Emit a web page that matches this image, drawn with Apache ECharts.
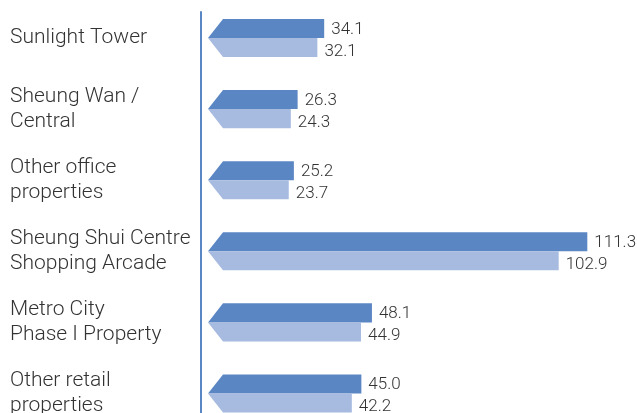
<!DOCTYPE html>
<html>
<head>
<meta charset="utf-8">
<script src="https://cdn.jsdelivr.net/npm/echarts@6/dist/echarts.min.js"></script>
<style>html,body{margin:0;padding:0;background:#fff;}#c{width:637px;height:413px;}</style>
</head>
<body>
<div id="c"></div>
<script>
var categories = ['Sunlight Tower', 'Sheung Wan /\nCentral', 'Other office\nproperties', 'Sheung Shui Centre\nShopping Arcade', 'Metro City\nPhase I Property', 'Other retail\nproperties'];
var currentValues = [34.1, 26.3, 25.2, 111.3, 48.1, 45.0];
var previousValues = [32.1, 24.3, 23.7, 102.9, 44.9, 42.2];

var darkBlue = '#5b86c4';
var lightBlue = '#a7badf';

function makeData(vals, which) {
  return vals.map(function (v, i) { return [v, i, which]; });
}

function renderBar(params, api) {
  var v = api.value(0), cat = api.value(1), which = api.value(2);
  var p0 = api.coord([0, cat]);
  var p1 = api.coord([v, cat]);
  var band = api.size([0, 1])[1];
  var h = band * 19 / 71;
  var mid = p0[1];
  var cut = 15;
  var pts, color, ty;
  if (which === 0) {
    pts = [[p0[0] + cut, mid - h], [p1[0], mid - h], [p1[0], mid], [p0[0], mid]];
    color = darkBlue; ty = mid - h / 2 + 1;
  } else {
    pts = [[p0[0], mid], [p1[0], mid], [p1[0], mid + h], [p0[0] + cut, mid + h]];
    color = lightBlue; ty = mid + h / 2 + 4;
  }
  return {
    type: 'group',
    children: [
      { type: 'polygon', shape: { points: pts }, style: { fill: color } },
      { type: 'text', x: p1[0] + 7, y: ty,
        style: { text: v.toFixed(1), fill: '#333', font: '300 17px Roboto, "Liberation Sans", sans-serif', verticalAlign: 'middle', align: 'left' } }
    ]
  };
}

var chart = echarts.init(document.getElementById('c'), null, { renderer: 'canvas' });
chart.setOption({
  animation: false,
  grid: [
    { left: 208, right: 3, top: 38, height: 355.5, outerBoundsMode: 'none', containLabel: false },
    { left: 201, width: 10, top: 12, bottom: 0, outerBoundsMode: 'none', containLabel: false }
  ],
  xAxis: [
    { type: 'value', gridIndex: 0, min: 0, max: 125, show: false },
    { type: 'value', gridIndex: 1, show: false }
  ],
  yAxis: [
    { type: 'category', gridIndex: 0, data: categories, inverse: true, boundaryGap: false,
      axisLine: { show: false }, axisTick: { show: false }, splitLine: { show: false },
      axisLabel: { margin: 198, align: 'left', color: '#333', fontSize: 21, fontWeight: 300, lineHeight: 25,
        fontFamily: 'Roboto, "Liberation Sans", sans-serif' } },
    { type: 'value', gridIndex: 1, axisLine: { show: true, lineStyle: { color: darkBlue, width: 2 } },
      axisTick: { show: false }, axisLabel: { show: false }, splitLine: { show: false } }
  ],
  series: [
    { name: 'Current', type: 'custom', xAxisIndex: 0, yAxisIndex: 0, renderItem: renderBar, clip: false,
      encode: { x: 0, y: 1 }, data: makeData(currentValues, 0) },
    { name: 'Previous', type: 'custom', xAxisIndex: 0, yAxisIndex: 0, renderItem: renderBar, clip: false,
      encode: { x: 0, y: 1 }, data: makeData(previousValues, 1) }
  ]
});
</script>
</body>
</html>
